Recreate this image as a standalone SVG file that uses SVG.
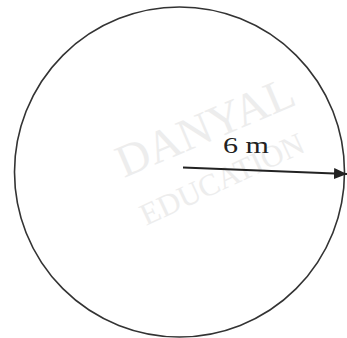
<svg xmlns="http://www.w3.org/2000/svg" width="347" height="338" viewBox="0 0 347 338">
<style>
.wm{font-family:"Liberation Serif",serif;fill:#ededed}
.lbl{font-family:"Liberation Serif",serif;font-size:24px;fill:#222}
</style>
<defs>
<marker id="ah" markerWidth="13" markerHeight="11" refX="13" refY="5.5" orient="auto" markerUnits="userSpaceOnUse">
<path d="M0,0 L13,5.5 L0,11 Z" fill="#222"/>
</marker>
</defs>
<rect width="347" height="338" fill="#fff"/>
<g id="watermark">
<text class="wm" font-size="46" transform="translate(124,178) rotate(-23)">DANYAL</text>
<text class="wm" font-size="31" transform="translate(146,226) rotate(-25)">EDUCATION</text>
</g>
<g id="circle">
<circle cx="179.5" cy="172" r="165" fill="none" stroke="#333" stroke-width="1.6"/>
</g>
<g id="connectors">
<line x1="183" y1="167.5" x2="347" y2="174" stroke="#222" stroke-width="2" marker-end="url(#ah)"/>
</g>
<g id="label">
<text class="lbl" x="223" y="153" textLength="46" lengthAdjust="spacingAndGlyphs">6 m</text>
</g>
</svg>
